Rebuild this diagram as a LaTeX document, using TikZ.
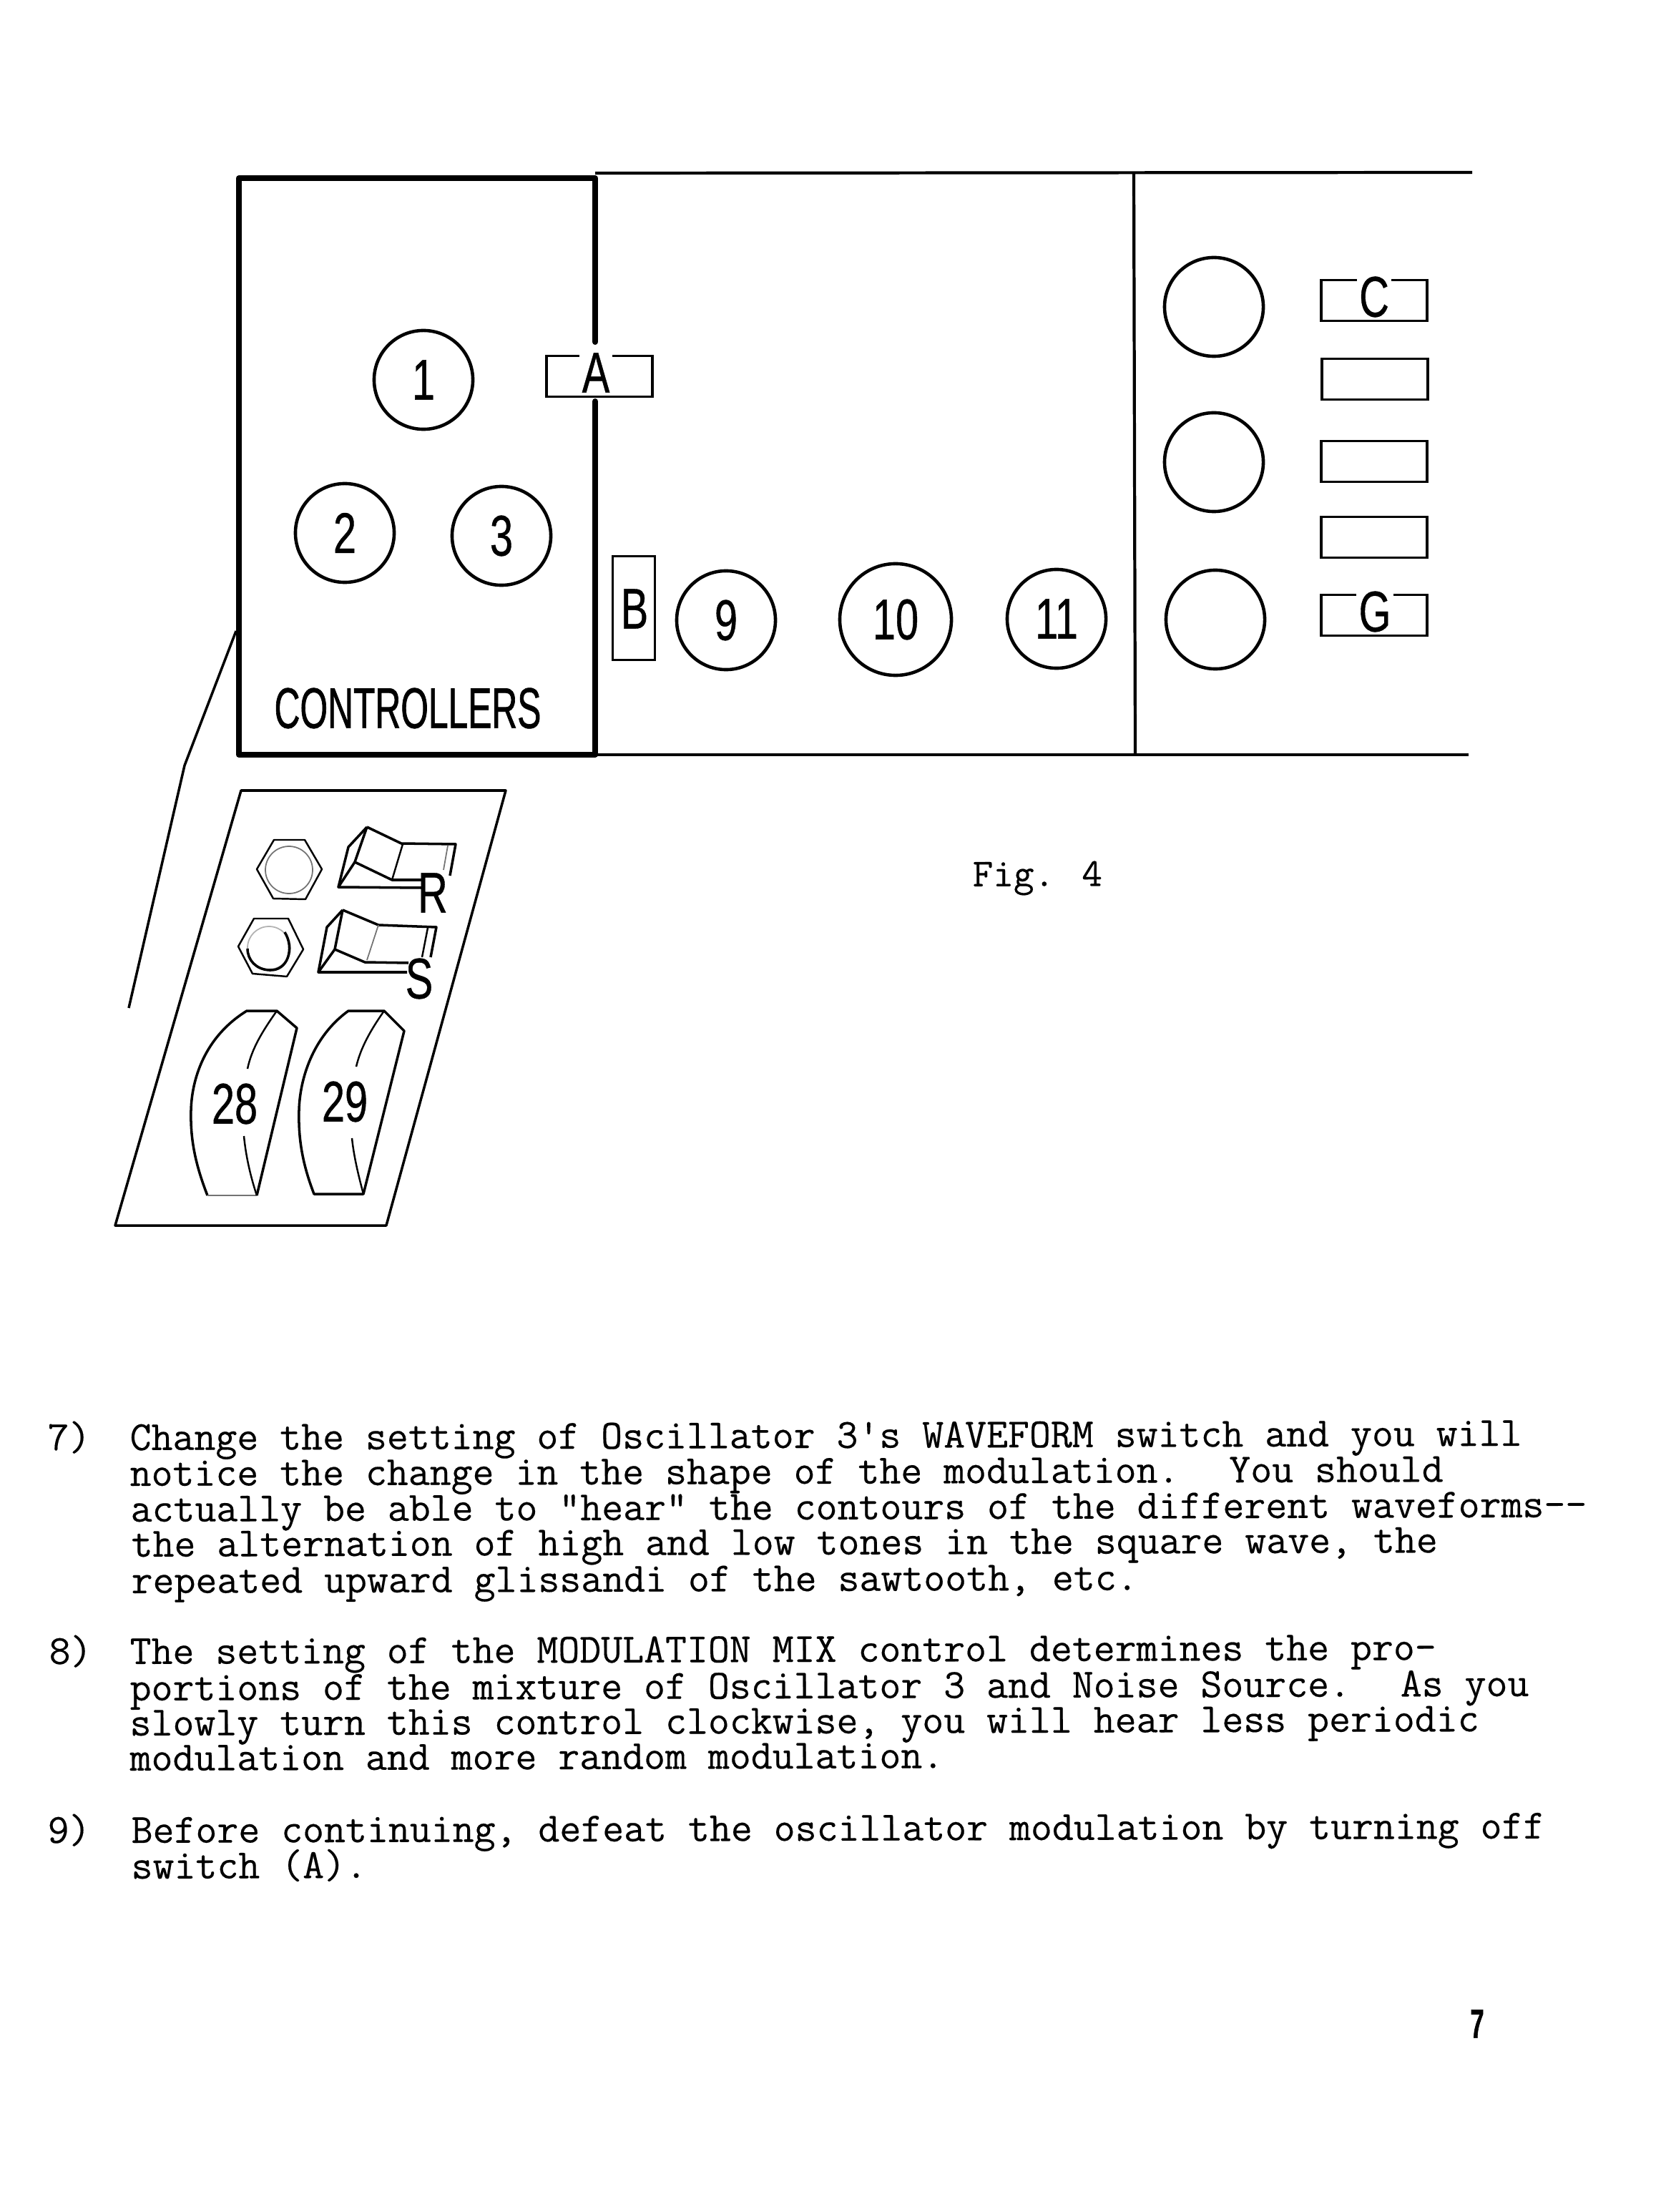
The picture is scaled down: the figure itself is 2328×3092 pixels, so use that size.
\documentclass[tikz,border=0pt]{standalone}
\usepackage{fontspec}
\newfontfamily\panelfont[FakeStretch=0.62, FakeBold=0.8]{Liberation Sans}
\newfontfamily\numberfont[FakeStretch=0.72, FakeBold=0.5]{Liberation Sans}
\newfontfamily\pagefont[FakeStretch=0.6, FakeBold=1]{Liberation Sans}
\newfontfamily\typedfont[FakeBold=0.3]{Latin Modern Mono}
\tikzset{
    knob/.style={draw, circle, line width=1.3pt, inner sep=0pt, minimum size=1.38cm, font=\numberfont\fontsize{22.8}{26}\selectfont},
    bigknob/.style={knob, minimum size=1.56cm},
    slider/.style={draw, rectangle, line width=1pt, inner sep=0pt, minimum width=1.48cm, minimum height=0.57cm},
    tag/.style={fill=white, inner xsep=1pt, inner ysep=0pt, font=\numberfont\fontsize{22.8}{26}\selectfont},
    caption/.style={inner sep=0pt, font=\panelfont\fontsize{22.8}{26}\selectfont},
    heavy/.style={line width=2.3pt, line cap=round, line join=round},
    rule/.style={line width=1.2pt},
    panel/.style={line width=1pt, line join=round},
    faint/.style={line width=0.5pt, black!55},
    typed/.style={anchor=base west, inner sep=0pt, rotate=0.18, font=\typedfont\fontsize{16.53}{18}\selectfont}
}

\begin{document}
\begin{tikzpicture}[x=0.01cm, y=-0.01cm]
    \useasboundingbox (0, 0) rectangle (2328, 3092);

    % front panel
    \draw[heavy] (832, 478) -- (832, 249) -- (334, 249) -- (334, 1055) -- (832, 1055) -- (832, 561);
    \draw[rule] (832, 242) -- (2058, 241);
    \draw[rule] (832, 1055) -- (2053, 1055);
    \draw[rule] (1585, 241) -- (1587, 1055);

    \node[knob] at (592, 531) (K1) {1};
    \node[knob] at (482, 745) (K2) {2};
    \node[knob] at (701, 749) (K3) {3};
    \node[knob] at (1015, 867) (K9) {9};
    \node[bigknob] at (1252, 866) (K10) {10};
    \node[knob] at (1477, 865) (K11) {11};
    \node[knob] at (1697, 429) (R1) {};
    \node[knob] at (1697, 646) (R2) {};
    \node[knob] at (1699, 866) (R3) {};

    \node[slider] at (838, 526) (SA) {};
    \node[tag] at (833, 521) (LA) {A};
    \node[slider, minimum width=0.59cm, minimum height=1.45cm] at (886, 850) (SB) {};
    \node[tag] at (887, 851) (LB) {B};
    \node[slider] at (1921, 420) (S1) {};
    \node[tag] at (1921, 415) (LC) {C};
    \node[slider] at (1922, 530) (S2) {};
    \node[slider] at (1921, 645) (S3) {};
    \node[slider] at (1921, 751) (S4) {};
    \node[slider] at (1921, 860) (S5) {};
    \node[tag] at (1922, 855) (LG) {G};
    \node[caption] at (570, 990) (ctl) {CONTROLLERS};

    % detail of the controllers
    \draw[panel] (330, 882) -- (258, 1070) -- (180, 1409);
    \draw[panel] (337, 1105) -- (707, 1105) -- (540, 1713) -- (161, 1713) -- cycle;

    \draw[panel, line width=0.7pt] (359, 1215) -- (383, 1174) -- (426, 1174) -- (450, 1215) -- (427, 1257) -- (382, 1256) -- cycle;
    \draw[faint] (404, 1216) circle [radius=33];
    \draw[panel, line width=0.7pt] (333, 1323) -- (355, 1284) -- (403, 1284) -- (424, 1327) -- (401, 1365) -- (353, 1361) -- cycle;
    \draw[faint, black!30] (376, 1325) circle [radius=30];
    \draw[panel] (398, 1303) .. controls (412, 1325) and (403, 1358) .. (376, 1356) .. controls (358, 1355) and (346, 1342) .. (346, 1326);

    \draw[panel] (513, 1156) -- (561, 1179) -- (637, 1180) -- (629, 1224);
    \draw[faint] (626, 1182) -- (620, 1216);
    \draw[panel] (513, 1156) -- (487, 1184) -- (473, 1240) -- (590, 1241);
    \draw[panel] (513, 1156) -- (496, 1205) -- (473, 1240);
    \draw[panel] (496, 1205) -- (548, 1230) -- (590, 1230);
    \draw[panel, line width=0.7pt] (563, 1180) -- (548, 1230);
    \node[tag, fill=none] at (605, 1248) (LR) {R};

    \draw[panel] (479, 1272) -- (529, 1293) -- (610, 1296) -- (602, 1338);
    \draw[panel, line width=0.7pt] (598, 1297) -- (590, 1338);
    \draw[panel] (479, 1272) -- (457, 1296) -- (445, 1359) -- (569, 1359);
    \draw[panel] (479, 1272) -- (468, 1327) -- (445, 1359);
    \draw[panel] (468, 1327) -- (510, 1345) -- (571, 1346);
    \draw[faint] (529, 1293) -- (513, 1342);
    \node[tag, fill=none] at (586, 1368) (LS) {S};

    \draw[panel] (290, 1671) .. controls (272, 1625) and (266, 1590) .. (267, 1552) .. controls (268, 1510) and (285, 1450) .. (345, 1413) -- (387, 1413) -- (415, 1437) -- (359, 1671);
    \draw[faint] (290, 1671) -- (359, 1671);
    \draw[panel, line width=0.7pt] (387, 1413) .. controls (368, 1440) and (352, 1465) .. (346, 1494);
    \draw[panel, line width=0.7pt] (341, 1588) .. controls (344, 1620) and (352, 1650) .. (359, 1671);
    \node[tag, fill=none] at (328, 1543) (K28) {28};

    \draw[panel] (439, 1669) .. controls (422, 1625) and (417, 1590) .. (418, 1552) .. controls (419, 1510) and (436, 1450) .. (487, 1413) -- (537, 1413) -- (565, 1441) -- (508, 1669) -- cycle;
    \draw[panel, line width=0.7pt] (537, 1413) .. controls (518, 1440) and (504, 1465) .. (498, 1491);
    \draw[panel, line width=0.7pt] (492, 1591) .. controls (495, 1620) and (503, 1650) .. (508, 1669);
    \node[tag, fill=none] at (482, 1540) (K29) {29};

    % text of the page
    \node[typed, rotate=0, font=\typedfont\fontsize{15.8}{18}\selectfont] at (1359, 1239) (fig) {Fig. 4};

    \node[typed] at (66, 2027) (n7) {7)};
    \node[typed] at (181, 2027) (p7a) {Change the setting of Oscillator 3's WAVEFORM switch and you will};
    \node[typed] at (181, 2077) (p7b) {notice the change in the shape of the modulation.~ You should};
    \node[typed] at (182, 2127) (p7c) {actually be able to "hear" the contours of the different waveforms-{}-};
    \node[typed] at (183, 2176) (p7d) {the alternation of high and low tones in the square wave, the};
    \node[typed] at (183, 2227) (p7e) {repeated upward glissandi of the sawtooth, etc.};

    \node[typed] at (68, 2326) (n8) {8)};
    \node[typed] at (181, 2326) (p8a) {The setting of the MODULATION MIX control determines the pro-};
    \node[typed] at (181, 2377) (p8b) {portions of the mixture of Oscillator 3 and Noise Source.~ As you};
    \node[typed] at (181, 2426) (p8c) {slowly turn this control clockwise, you will hear less periodic};
    \node[typed] at (181, 2475) (p8d) {modulation and more random modulation.};

    \node[typed] at (66, 2576) (n9) {9)};
    \node[typed] at (183, 2576) (p9a) {Before continuing, defeat the oscillator modulation by turning off};
    \node[typed] at (183, 2626) (p9b) {switch (A).};

    \node[inner sep=0pt, font=\pagefont\bfseries\fontsize{16.2}{18}\selectfont] at (2065, 2829) (pg) {7};
\end{tikzpicture}
\end{document}
